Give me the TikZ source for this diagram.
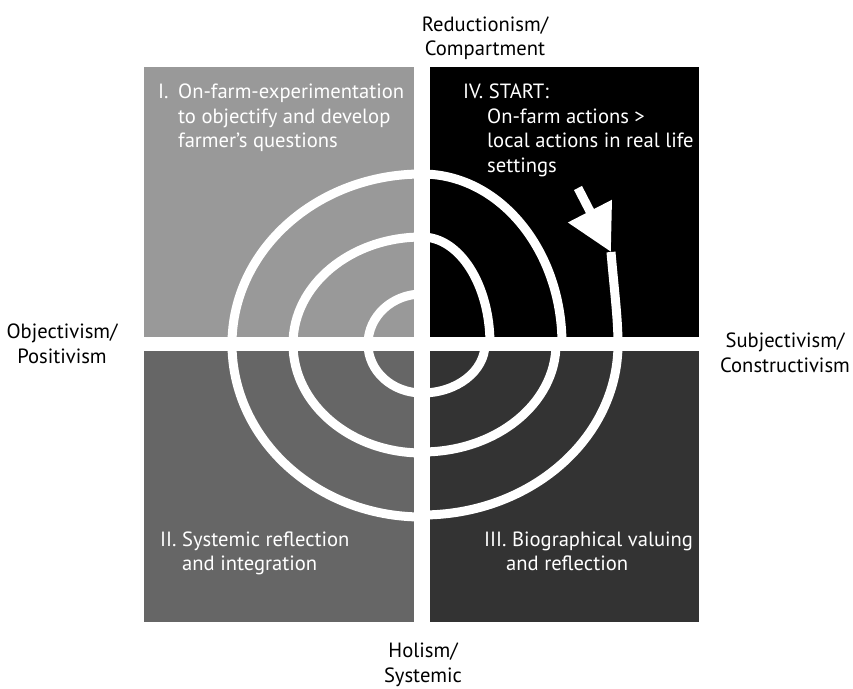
\documentclass[tikz,border=0pt]{standalone}
\usepackage{fontspec}
\setmainfont{PT Sans}
\usetikzlibrary{arrows.meta}
\begin{document}
\begin{tikzpicture}[x=1pt,y=1pt,
    quadtext/.style={anchor=base west, inner sep=0pt, text=white, font=\fontsize{20.6}{24.5}\selectfont},
    axislabel/.style={align=center, inner sep=0pt, font=\fontsize{20.6}{24.5}\selectfont},
    ring/.style={white, line width=9pt}]
  \useasboundingbox[fill=white] (0,0) rectangle (853,688);
  % the four quadrants
  \fill[black!40] (144,351) rectangle (414,621);
  \fill[black]    (430,351) rectangle (699,621);
  \fill[black!60] (144,66) rectangle (414,337);
  \fill[black!80] (430,66) rectangle (699,337);
  \coordinate (c) at (422,344);
  % start arrow
  \coordinate (tail) at (578,500);
  \coordinate (tip) at (611,436);
  \draw[ring, -{Triangle[width=47pt,length=46pt]}] (tail) -- (tip);
  \draw[ring] (tip) .. controls (614,400) and (618,370) .. (618,344);
  % spiral, one quarter of an ellipse per quadrant
  \foreach \a/\b/\rx/\ry in {0/-90/196/171, -90/-180/190/173, 180/90/190/170,
      90/0/140/170, 0/-90/134/108, -90/-180/129/109, 180/90/129/107,
      90/0/68/107, 0/-90/63/49, -90/-180/54/49, 180/90/54/50}
    \draw[ring] (c) ++(\a:\rx pt and \ry pt) arc[start angle=\a, end angle=\b, x radius=\rx, y radius=\ry];
  % quadrant texts
  \node[quadtext] (phaseI) at (158,589) {\begin{tabular}[t]{@{}p{20pt}@{}l@{}}I.&On-farm-experimentation\\&to objectify and develop\\&farmer’s questions\end{tabular}};
  \node[quadtext] (phaseIV) at (463,589) {\begin{tabular}[t]{@{}p{24pt}@{}l@{}}\multicolumn{2}{@{}l@{}}{IV. START:}\\&On-farm actions >\\&local actions in real life\\&settings\end{tabular}};
  \node[quadtext] (phaseII) at (160,142) {\begin{tabular}[t]{@{}p{22pt}@{}l@{}}II.&Systemic reflection\\&and integration\end{tabular}};
  \node[quadtext] (phaseIII) at (484,142) {\begin{tabular}[t]{@{}p{22pt}@{}l@{}}\multicolumn{2}{@{}l@{}}{III. Biographical valuing}\\&and reflection\end{tabular}};
  % axis labels
  \node[axislabel] (top) at (485,650) {Reductionism/\\Compartment};
  \node[axislabel] (bottom) at (423,23) {Holism/\\Systemic};
  \node[axislabel] (left) at (62,344) {Objectivism/\\Positivism};
  \node[axislabel] (right) at (785,335) {Subjectivism/\\Constructivism};
\end{tikzpicture}
\end{document}
